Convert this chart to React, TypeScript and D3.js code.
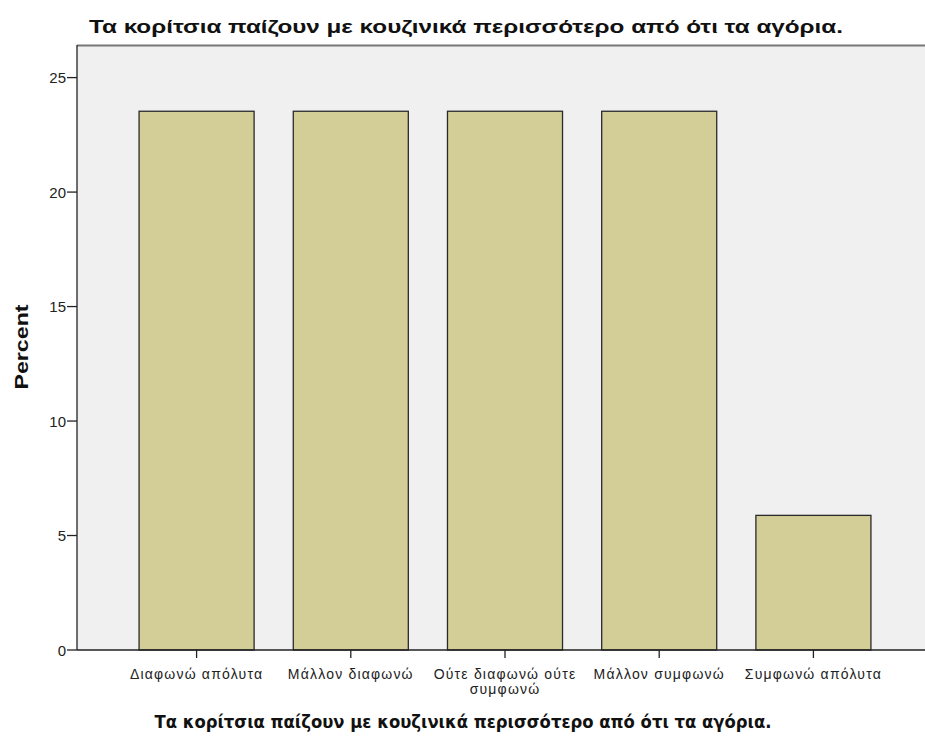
import React from "react";
import * as d3 from "d3";

const categories = ["Διαφωνώ απόλυτα", "Μάλλον διαφωνώ", "Ούτε διαφωνώ ούτε συμφωνώ", "Μάλλον συμφωνώ", "Συμφωνώ απόλυτα"];
const categoryLines = [["Διαφωνώ απόλυτα"], ["Μάλλον διαφωνώ"], ["Ούτε διαφωνώ ούτε", "συμφωνώ"], ["Μάλλον συμφωνώ"], ["Συμφωνώ απόλυτα"]];
const percents = [23.53, 23.53, 23.53, 23.53, 5.88];
const yTicks = [0, 5, 10, 15, 20, 25];
const titleText = "Τα κορίτσια παίζουν με κουζινικά περισσότερο από ότι τα αγόρια.";
const xTitleText = "Τα κορίτσια παίζουν με κουζινικά περισσότερο από ότι τα αγόρια.";
const yTitleText = "Percent";

const W = 925, H = 736;
const left = 77, top = 46, bottom = 650, right = 933;

export default function App() {
  const x = d3.scaleBand<string>().domain(categories).range([left, right]).paddingInner(0.254).paddingOuter(0.4025);
  const y = d3.scaleLinear().domain([0, 26.38]).range([bottom, top]);
  const font = "Arial, 'Liberation Sans', sans-serif";
  const boldFont = "'DejaVu Sans', Verdana, sans-serif";
  return (
    <svg width={W} height={H} style={{ position: "absolute", left: 0, top: 0, background: "#fff" }} fontFamily={font}>
      <rect x={left} y={top} width={W - left} height={bottom - top} fill="#f0f0f0" />
      <line x1={left} x2={W} y1={top - 0.5} y2={top - 0.5} stroke="#777" strokeWidth={2} />
      {percents.map((v, i) => (
        <rect key={i} x={x(categories[i])!} y={y(v)} width={x.bandwidth()} height={y(0) - y(v)} fill="#d3ce97" stroke="#2a2a2a" strokeWidth={1.3} />
      ))}
      <line x1={left} x2={left} y1={top - 1} y2={bottom} stroke="#222" strokeWidth={1.3} />
      <line x1={left} x2={W} y1={bottom} y2={bottom} stroke="#222" strokeWidth={1.3} />
      {yTicks.map((t) => (
        <g key={t}>
          <line x1={left - 10} x2={left} y1={y(t)} y2={y(t)} stroke="#222" strokeWidth={1.3} />
          <text x={left - 11} y={y(t) + 5.5} textAnchor="end" fontSize={15} fill="#222">{t}</text>
        </g>
      ))}
      {categories.map((c, i) => {
        const cx = x(c)! + x.bandwidth() / 2;
        return (
          <g key={c}>
            <line x1={cx} x2={cx} y1={bottom} y2={bottom + 8} stroke="#222" strokeWidth={1.3} />
            {categoryLines[i].map((ln, j) => (
              <text key={j} x={cx} y={bottom + 29 + j * 15} textAnchor="middle" fontSize={14} letterSpacing={1.2} fill="#222">{ln}</text>
            ))}
          </g>
        );
      })}
      <text x={89} y={33} fontSize={19} fontWeight="bold" fill="#111" textLength={754} lengthAdjust="spacingAndGlyphs">{titleText}</text>
      <text x={463} y={728} textAnchor="middle" fontSize={17} fontWeight="bold" fill="#111" fontFamily={boldFont} textLength={617} lengthAdjust="spacingAndGlyphs">{xTitleText}</text>
      <text transform={`translate(28,347) rotate(-90)`} textAnchor="middle" fontSize={19} fontWeight="bold" fill="#111" textLength={85} lengthAdjust="spacingAndGlyphs">{yTitleText}</text>
    </svg>
  );
}
